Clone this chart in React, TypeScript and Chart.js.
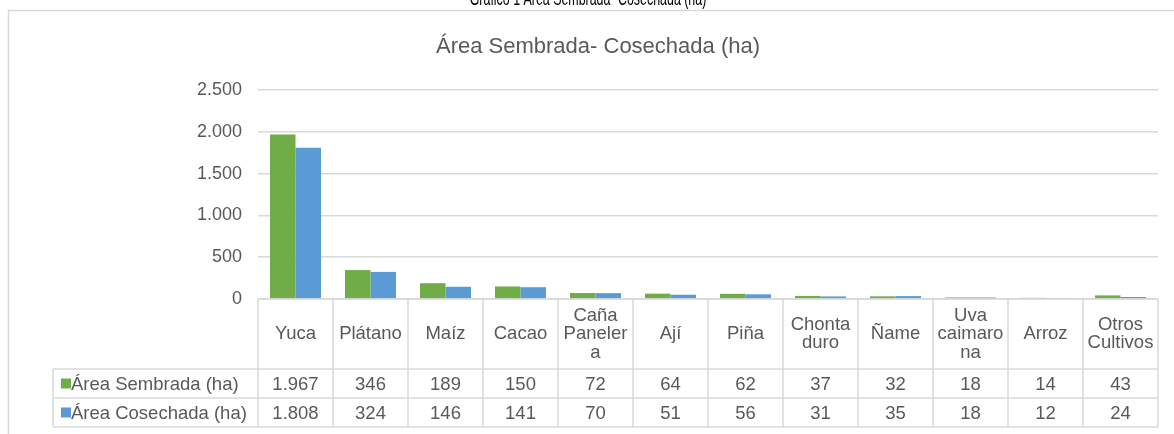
import React, { useEffect, useRef } from "react";
import { Chart, registerables } from "chart.js";

Chart.register(...registerables);

const caption = "Gráfico 1 Área Sembrada- Cosechada (ha)";
const chartTitle = "Área Sembrada- Cosechada (ha)";
const categories: string[][] = [
  ["Yuca"],
  ["Plátano"],
  ["Maíz"],
  ["Cacao"],
  ["Caña", "Paneler", "a"],
  ["Ají"],
  ["Piña"],
  ["Chonta", "duro"],
  ["Ñame"],
  ["Uva", "caimaro", "na"],
  ["Arroz"],
  ["Otros", "Cultivos"],
];
const seriesNames = ["Área Sembrada (ha)", "Área Cosechada (ha)"];
const sembrada = [1967, 346, 189, 150, 72, 64, 62, 37, 32, 18, 14, 43];
const cosechada = [1808, 324, 146, 141, 70, 51, 56, 31, 35, 18, 12, 24];
const seriesColors = ["#70ad47", "#5b9bd5"];
const yMin = 0;
const yMax = 2500;
const yStep = 500;

const FONT = "'Liberation Sans', Arial, sans-serif";
const TEXT = "#595959";
const LINE = "#d9d9d9";

const fmt = (n: number) => String(n).replace(/\B(?=(\d{3})+(?!\d))/g, ".");

const tablePlugin = {
  id: "tablePlugin",
  afterDraw(chart: any) {
    const ctx: CanvasRenderingContext2D = chart.ctx;
    const area = chart.chartArea;
    const n = categories.length;
    const w = (area.right - area.left) / n;
    const top = area.bottom;
    const hdrBottom = top + 70;
    const row1Bottom = hdrBottom + 29;
    const row2Bottom = row1Bottom + 29;
    const legLeft = 53;
    ctx.save();

    // caption (cut off at the top)
    ctx.save();
    ctx.fillStyle = "#000";
    ctx.font = `17px ${FONT}`;
    ctx.textAlign = "center";
    ctx.textBaseline = "alphabetic";
    ctx.translate(588, 5);
    ctx.scale(0.73, 1.15);
    ctx.fillText(caption, 0, 0);
    ctx.restore();

    // outer box
    ctx.strokeStyle = LINE;
    ctx.lineWidth = 1.5;
    ctx.beginPath();
    ctx.moveTo(8.5, 440);
    ctx.lineTo(8.5, 10.5);
    ctx.lineTo(1180, 10.5);
    ctx.stroke();

    // title
    ctx.fillStyle = TEXT;
    ctx.font = `22px ${FONT}`;
    ctx.textAlign = "center";
    ctx.textBaseline = "middle";
    ctx.fillText(chartTitle, 598, 47);

    // table lines
    ctx.strokeStyle = LINE;
    ctx.lineWidth = 1.5;
    ctx.beginPath();
    ctx.moveTo(area.left, top);
    ctx.lineTo(area.right, top);
    for (const y of [hdrBottom, row1Bottom, row2Bottom]) {
      ctx.moveTo(legLeft, y);
      ctx.lineTo(area.right, y);
    }
    for (let i = 0; i <= n; i++) {
      const x = area.left + i * w;
      ctx.moveTo(x, top);
      ctx.lineTo(x, row2Bottom);
    }
    ctx.moveTo(legLeft, hdrBottom);
    ctx.lineTo(legLeft, row2Bottom);
    ctx.stroke();

    // category labels
    ctx.fillStyle = TEXT;
    ctx.font = `18.5px ${FONT}`;
    ctx.textAlign = "center";
    ctx.textBaseline = "middle";
    const lh = 18.5;
    categories.forEach((lines, i) => {
      const cx = area.left + (i + 0.5) * w;
      const cy = (top + hdrBottom) / 2;
      lines.forEach((t, j) => {
        ctx.fillText(t, cx, cy + (j - (lines.length - 1) / 2) * lh);
      });
    });

    // values
    const rows = [sembrada, cosechada];
    const rowMid = [(hdrBottom + row1Bottom) / 2, (row1Bottom + row2Bottom) / 2];
    rows.forEach((vals, r) => {
      vals.forEach((v, i) => {
        const cx = area.left + (i + 0.5) * w;
        ctx.fillText(fmt(v), cx, rowMid[r] + 1);
      });
      // legend key
      ctx.fillStyle = seriesColors[r];
      ctx.fillRect(61, rowMid[r] - 5, 10, 10);
      ctx.fillStyle = TEXT;
      ctx.textAlign = "left";
      ctx.fillText(seriesNames[r], 71, rowMid[r] + 1);
      ctx.textAlign = "center";
    });
    ctx.restore();
  },
};

export default function App() {
  const ref = useRef<HTMLCanvasElement>(null);
  useEffect(() => {
    if (!ref.current) return;
    const chart = new Chart(ref.current, {
      type: "bar",
      data: {
        labels: categories,
        datasets: [
          { label: seriesNames[0], data: sembrada, backgroundColor: seriesColors[0], categoryPercentage: 0.68, barPercentage: 1 },
          { label: seriesNames[1], data: cosechada, backgroundColor: seriesColors[1], categoryPercentage: 0.68, barPercentage: 1 },
        ],
      },
      options: {
        responsive: false,
        animation: false,
        devicePixelRatio: 1,
        layout: { padding: { left: 0, right: 16, top: 90, bottom: 135 } },
        plugins: { legend: { display: false }, tooltip: { enabled: false }, title: { display: false } },
        scales: {
          x: { display: false },
          y: {
            min: yMin,
            max: yMax,
            ticks: {
              stepSize: yStep,
              callback: (v: any) => fmt(Number(v)),
              font: { family: FONT, size: 18 },
              color: TEXT,
              padding: 16,
            },
            grid: { color: LINE, lineWidth: 1.5, drawTicks: false },
            border: { display: false },
            afterFit: (s: any) => {
              s.width = 258;
            },
          },
        },
      },
      plugins: [tablePlugin],
    } as any);
    return () => chart.destroy();
  }, []);
  return (
    <div style={{ position: "fixed", left: 0, top: 0, width: 1174, height: 434, background: "#fff" }}>
      <canvas ref={ref} width={1174} height={434} style={{ display: "block", width: 1174, height: 434 }} />
    </div>
  );
}
